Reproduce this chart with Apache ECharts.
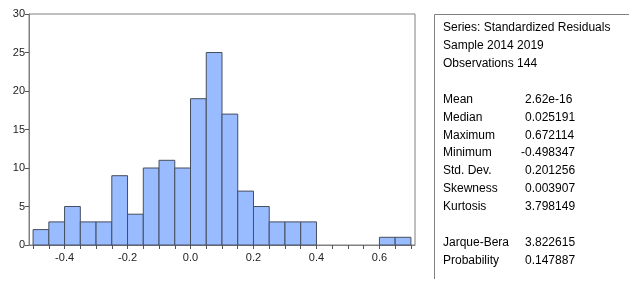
<!DOCTYPE html>
<html>
<head>
<meta charset="utf-8">
<script src="https://cdn.jsdelivr.net/npm/echarts@6/dist/echarts.min.js"></script>
<style>
  html, body { margin: 0; padding: 0; background: #fff; }
  #chart { width: 629px; height: 282px; }
</style>
</head>
<body>
<div id="chart"></div>
<script>
// histogram bins (left edges) and counts
const binWidth = 0.05
const binStarts = [-0.5, -0.45, -0.4, -0.35, -0.3, -0.25, -0.2, -0.15, -0.1, -0.05,
  0.0, 0.05, 0.1, 0.15, 0.2, 0.25, 0.3, 0.35, 0.4, 0.45, 0.5, 0.55, 0.6, 0.65]
const counts = [2, 3, 5, 3, 3, 9, 4, 10, 11, 10,
  19, 25, 17, 7, 5, 3, 3, 3, 0, 0, 0, 0, 1, 1]

const xTickValues = [-0.5, -0.45, -0.4, -0.35, -0.3, -0.25, -0.2, -0.15, -0.1, -0.05,
  0.0, 0.05, 0.1, 0.15, 0.2, 0.25, 0.3, 0.35, 0.4, 0.45, 0.5, 0.55, 0.6, 0.65, 0.7]
const xLabelValues = [-0.4, -0.2, 0.0, 0.2, 0.4, 0.6]

// statistics panel
const headerLines = ['Series: Standardized Residuals', 'Sample 2014 2019', 'Observations 144']
const statNames = ['Mean', 'Median', 'Maximum', 'Minimum', 'Std. Dev.', 'Skewness', 'Kurtosis']
const statValues = ['2.62e-16', '0.025191', '0.672114', '-0.498347', '0.201256', '0.003907', '3.798149']
const testNames = ['Jarque-Bera', 'Probability']
const testValues = ['3.822615', '0.147887']

const FONT = '"Liberation Sans", Arial, sans-serif'
const chart = echarts.init(document.getElementById('chart'))

const lineY = i => 27.5 + i * 17.95
const valueX = v => (v.startsWith('-') ? 521 : 525)
const textItem = (text, x, y) => ({
  type: 'text',
  x, y,
  style: { text, fill: '#000', font: '12px ' + FONT, textVerticalAlign: 'middle' }
})

const panel = [{
  type: 'polyline',
  shape: { points: [[434.5, 279], [434.5, 14.5], [629, 14.5]] },
  style: { stroke: '#808080', lineWidth: 1, fill: null }
}]
headerLines.forEach((t, i) => panel.push(textItem(t, 443, lineY(i))))
statNames.forEach((t, i) => {
  panel.push(textItem(t, 443, lineY(4 + i)))
  panel.push(textItem(statValues[i], valueX(statValues[i]), lineY(4 + i)))
})
testNames.forEach((t, i) => {
  panel.push(textItem(t, 443, lineY(12 + i)))
  panel.push(textItem(testValues[i], valueX(testValues[i]), lineY(12 + i)))
})

const histData = binStarts
  .map((s, i) => [s, s + binWidth, counts[i]])
  .filter(d => d[2] > 0)

chart.setOption({
  animation: false,
  grid: {
    left: 29, right: 214, top: 14, bottom: 37,
    show: true, borderColor: '#808080', borderWidth: 1
  },
  xAxis: {
    type: 'value',
    min: -0.513,
    max: 0.713,
    splitLine: { show: false },
    axisLine: { show: true, onZero: false, lineStyle: { color: '#808080' } },
    axisTick: {
      show: true, length: 4, customValues: xTickValues,
      lineStyle: { color: '#555' }
    },
    axisLabel: {
      customValues: xLabelValues,
      formatter: v => v.toFixed(1),
      color: '#222', fontSize: 11, fontFamily: FONT, margin: 7
    }
  },
  yAxis: {
    type: 'value',
    min: 0,
    max: 30,
    interval: 5,
    splitLine: { show: false },
    axisLine: { show: true, onZero: false, lineStyle: { color: '#808080' } },
    axisTick: { show: true, length: 4, lineStyle: { color: '#555' } },
    axisLabel: { color: '#222', fontSize: 11, fontFamily: FONT, margin: 4 }
  },
  series: [{
    type: 'custom',
    data: histData,
    encode: { x: [0, 1], y: 2 },
    renderItem(params, api) {
      const p0 = api.coord([api.value(0), api.value(2)])
      const p1 = api.coord([api.value(1), 0])
      return {
        type: 'rect',
        shape: { x: p0[0], y: p0[1], width: p1[0] - p0[0], height: p1[1] - p0[1] },
        style: { fill: '#99bbff', stroke: '#464e5e', lineWidth: 1 }
      }
    }
  }],
  graphic: panel
})
</script>
</body>
</html>
